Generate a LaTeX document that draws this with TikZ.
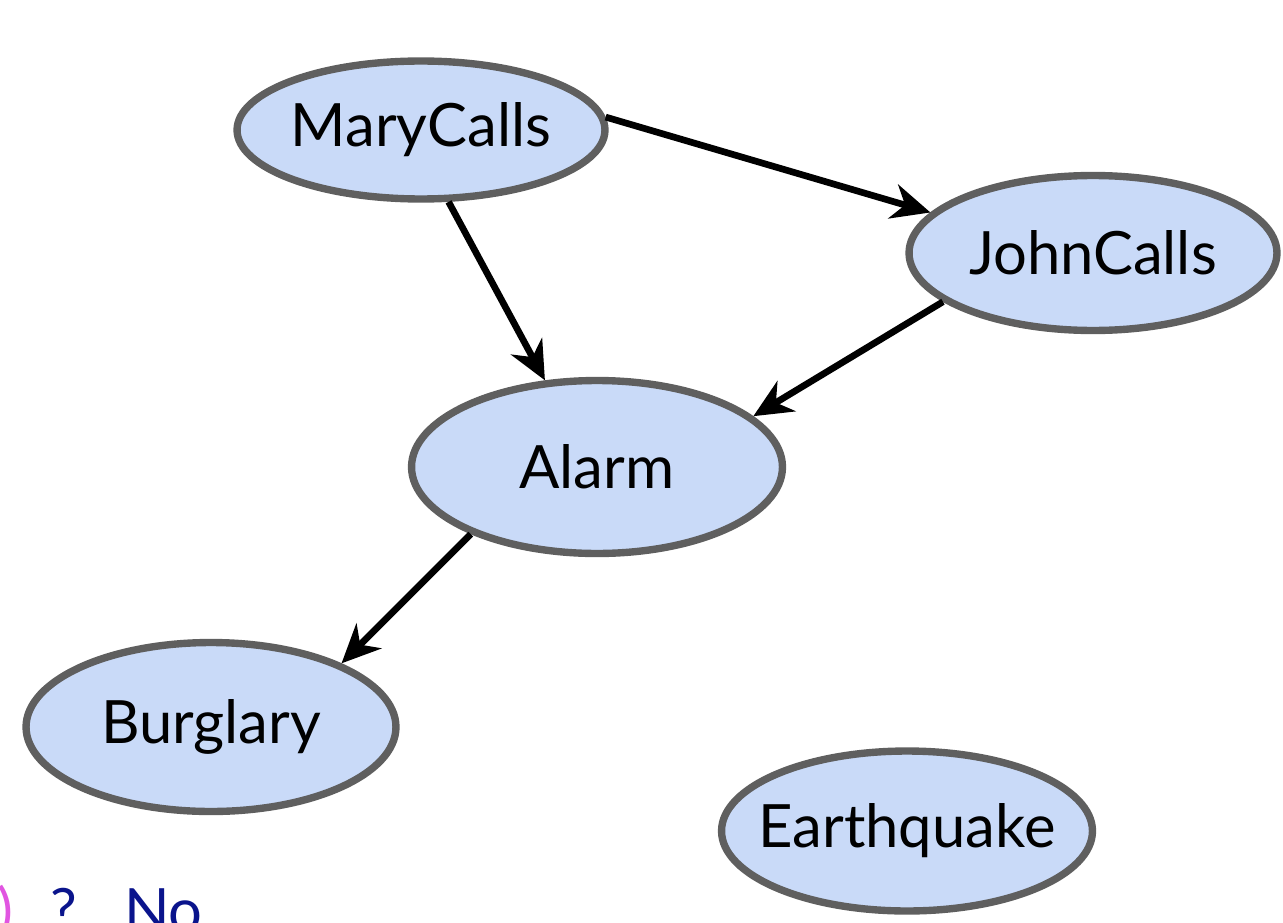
\documentclass[tikz,border=0pt]{standalone}
\usepackage{fontspec}
\setmainfont{Lato}
\usetikzlibrary{shapes.geometric,arrows.meta}
\definecolor{nodefill}{RGB}{201,218,248}
\definecolor{nodeline}{RGB}{95,95,95}
\definecolor{querynavy}{RGB}{10,20,140}
\definecolor{querypink}{RGB}{225,85,225}
\newcommand{\varname}[1]{\makebox[2cm]{#1}}

\begin{document}
\begin{tikzpicture}[x=0.02cm,y=-0.02cm,font=\fontsize{34}{40}\selectfont]
    \tikzset{
        var/.style={
            ellipse,draw=nodeline,fill=nodefill,line width=4.2pt,
            inner sep=0pt,text=black
        },
        link/.style={-{Stealth[length=22pt,width=20pt,inset=7pt]},line width=3.8pt}
    }

    \clip (0,0) rectangle (1283,922);

    \node[var,minimum width=7.36cm,minimum height=2.76cm] (mary) at (421,130) {\varname{MaryCalls}};
    \node[var,minimum width=7.36cm,minimum height=3.1cm] (john) at (1093,253) {\varname{JohnCalls}};
    \node[var,minimum width=7.42cm,minimum height=3.46cm] (alarm) at (597,467) {\varname{Alarm}};
    \node[var,minimum width=7.4cm,minimum height=3.38cm] (burglary) at (211,727) {\varname{Burglary}};
    \node[var,minimum width=7.42cm,minimum height=3.2cm] (earthquake) at (907,831) {\varname{Earthquake}};

    \foreach \a/\b in {mary.4/john.166,mary.-69/alarm.121,john.198/alarm.18,alarm.208/burglary.26}{
        \draw[link] (\a) -- (\b);
    }

    \node[anchor=base east,text=querypink] (paren) at (20,931) {)};
    \node[anchor=base west,text=querynavy] (query) at (44,931) {?};
    \node[anchor=base west,text=querynavy] (answer) at (118,931) {No};
\end{tikzpicture}
\end{document}
